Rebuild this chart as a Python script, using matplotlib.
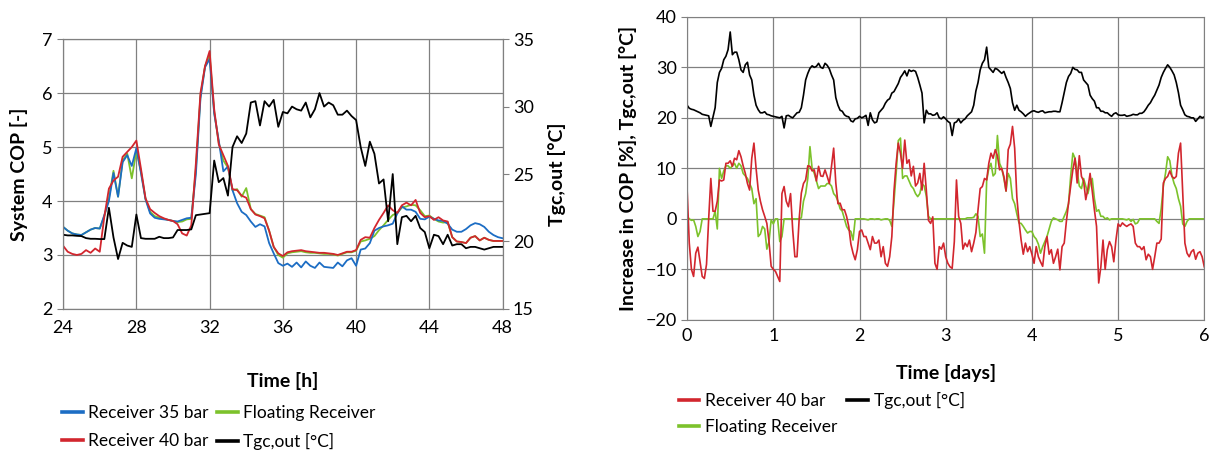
import numpy as np
import matplotlib
matplotlib.use("Agg")
from matplotlib import pyplot as plt

plt.rcParams["font.family"] = ["Lato", "DejaVu Sans"]

# left chart: 24 h .. 48 h, one reading every quarter hour
hours = np.arange(24, 48.01, 0.25)

cop_35 = [3.52, 3.45, 3.40, 3.38, 3.37, 3.42, 3.47, 3.50, 3.49, 3.74, 4.00, 4.52, 4.08,
          4.72, 4.85, 4.65, 4.98, 4.52, 4.03, 3.77, 3.69, 3.67, 3.66, 3.65, 3.63, 3.62,
          3.65, 3.68, 3.69, 4.50, 5.90, 6.48, 6.63, 5.62, 5.12, 4.55, 4.64, 4.20, 3.96,
          3.80, 3.74, 3.62, 3.52, 3.57, 3.53, 3.22, 3.03, 2.85, 2.80,
          2.84, 2.78, 2.86, 2.77, 2.88, 2.80, 2.76, 2.86, 2.78, 2.77, 2.76, 2.86, 2.79,
          2.90, 2.94, 2.80, 3.10, 3.12, 3.22, 3.45, 3.50, 3.53, 3.55, 3.58, 3.77, 3.90,
          3.84, 3.84, 3.80, 3.67, 3.66, 3.71, 3.67, 3.64, 3.63, 3.58, 3.47, 3.43, 3.43,
          3.48, 3.55, 3.59, 3.57, 3.52, 3.43, 3.37, 3.33, 3.31]

cop_40 = [3.17, 3.06, 3.02, 3.00, 3.02, 3.09, 3.04, 3.12, 3.06, 3.71, 4.23, 4.38, 4.45,
          4.82, 4.91, 5.00, 5.12, 4.60, 4.05, 3.85, 3.78, 3.72, 3.68, 3.65, 3.63, 3.57,
          3.40, 3.36, 3.55, 4.70, 6.00, 6.50, 6.78, 5.70, 5.05, 4.85, 4.65, 4.22, 4.20,
          4.10, 4.06, 3.85, 3.75, 3.72, 3.68, 3.45, 3.15, 3.03, 2.98,
          3.05, 3.07, 3.08, 3.09, 3.07, 3.06, 3.05, 3.04, 3.04, 3.03, 3.02, 3.00, 3.03,
          3.06, 3.06, 3.09, 3.28, 3.33, 3.32, 3.50, 3.65, 3.78, 3.92, 3.83, 3.78, 3.92,
          3.97, 3.92, 4.02, 3.78, 3.70, 3.72, 3.65, 3.70, 3.64, 3.62, 3.33, 3.25, 3.24,
          3.22, 3.32, 3.35, 3.27, 3.32, 3.28, 3.26, 3.26, 3.26]

cop_float = [3.52, 3.45, 3.40, 3.38, 3.37, 3.42, 3.47, 3.50, 3.49, 3.72, 4.05, 4.56, 4.08,
             4.75, 4.88, 4.42, 4.93, 4.55, 4.04, 3.80, 3.72, 3.69, 3.67, 3.65, 3.63, 3.61,
             3.62, 3.66, 3.67, 4.60, 5.95, 6.50, 6.70, 5.65, 5.08, 4.75, 4.62, 4.20, 4.22,
             4.08, 4.24, 3.85, 3.76, 3.73, 3.70, 3.45, 3.15, 3.00, 2.95,
             3.03, 3.05, 3.06, 3.07, 3.05, 3.04, 3.04, 3.03, 3.02, 3.02, 3.01, 2.99, 3.02,
             3.05, 3.05, 3.08, 3.25, 3.27, 3.30, 3.35, 3.46, 3.55, 3.65, 3.74, 3.78, 3.88,
             3.90, 3.93, 3.92, 3.83, 3.72, 3.73, 3.67, 3.62, 3.60, 3.61, 3.33, 3.25, 3.24,
             3.22, 3.32, 3.35, 3.27, 3.32, 3.28, 3.26, 3.26, 3.26]

tgc_hours = [20.5, 20.45, 20.45, 20.42, 20.4, 20.25, 20.2, 20.2, 20.18, 20.18, 22.5, 20.3,
             18.7, 19.9, 19.7, 19.6, 22.0, 20.25, 20.2, 20.2, 20.2, 20.35, 20.25, 20.25,
             20.3, 20.85, 20.85, 20.85, 20.9, 21.95, 22.0, 22.05, 22.1, 26.0, 24.4, 24.7,
             23.4, 27.0, 27.8, 27.3, 28.0, 30.3, 30.4, 28.6, 30.4, 30.0, 30.5, 28.5, 29.6,
             29.5, 30.0, 29.8, 29.7, 30.3, 29.2, 29.8, 31.0, 30.0, 30.3, 30.1, 29.4, 29.4,
             29.7, 29.3, 29.0, 27.0, 25.6, 27.4, 26.5, 24.3, 24.6, 21.5, 25.0, 19.8, 21.8,
             21.9, 21.5, 21.9, 21.0, 20.7, 19.5, 20.5, 20.4, 19.8, 20.5, 19.7, 19.8, 19.8,
             19.5, 19.6, 19.6, 19.5, 19.4, 19.5, 19.6, 19.6, 19.6]

# right chart: 0 .. 6 days, one reading every 0.025 day
days = np.arange(0, 6.0001, 0.025)

tgc_days = [22.5, 21.9, 21.7, 21.6, 21.4, 21.2, 21.0, 20.7, 20.6, 20.5, 20.4, 18.3,
            20.2, 22.0, 27.0, 29.0, 29.8, 31.5, 32.2, 33.5, 37.0, 32.5, 33.0, 33.0,
            31.5, 29.5, 29.0, 30.5, 31.0, 28.5, 27.5, 24.5, 22.5, 21.6, 21.0, 21.0,
            21.2, 20.7, 20.6, 20.4, 20.3, 20.2, 20.1, 20.0, 20.3, 18.0, 20.4, 20.5,
            20.2, 20.0, 20.5, 21.0, 21.1, 22.0, 24.5, 27.5, 28.8, 29.8, 30.3, 30.0,
            30.2, 30.8, 30.0, 29.8, 30.8, 30.4, 29.7, 28.5, 27.5, 24.0, 22.5, 21.5,
            21.3, 20.6, 20.3, 20.2, 19.4, 19.2, 19.8, 19.9, 20.3, 20.0, 20.2, 20.5,
            18.5, 21.0, 19.6, 19.0, 19.2, 21.0, 21.5, 22.0, 22.9, 23.5, 23.8, 24.9,
            25.2, 26.0, 26.8, 28.0, 28.6, 29.3, 28.3, 29.5, 29.2, 29.4, 29.2, 28.0,
            26.5, 24.9, 19.0, 21.5, 20.8, 20.8, 20.5, 20.6, 21.0, 20.0, 19.8, 20.2,
            19.8, 19.3, 19.0, 16.5, 19.0, 19.2, 19.8, 19.0, 19.5, 19.8, 20.4, 20.8,
            21.2, 22.5, 25.3, 27.0, 29.5, 30.8, 31.5, 34.0, 30.0, 29.5, 29.0, 29.8,
            29.6, 29.2, 28.8, 29.2, 28.0, 27.0, 25.8, 23.0, 21.5, 22.5, 21.5, 21.2,
            20.8, 20.3, 20.7, 21.0, 21.3, 21.4, 21.2, 21.1, 21.3, 21.4, 21.0, 21.1,
            21.2, 21.2, 21.3, 21.3, 21.2, 21.2, 23.0, 25.0, 27.0, 28.2, 28.8, 30.0,
            29.6, 29.5, 29.0, 29.0, 27.5, 27.0, 26.5, 24.5, 23.8, 23.3, 22.0, 22.0,
            21.3, 21.3, 21.0, 21.0, 20.6, 20.3, 20.8, 21.0, 20.6, 20.5, 20.5, 20.6,
            20.3, 20.4, 20.5, 20.7, 20.6, 20.6, 20.9, 20.9, 21.2, 21.8, 22.5, 23.0,
            23.8, 24.5, 25.5, 26.5, 28.0, 29.0, 29.8, 30.5, 30.0, 29.3, 28.5, 27.0,
            25.0, 22.5, 21.6, 20.6, 20.3, 20.2, 20.0, 20.0, 19.3, 19.8, 20.3, 20.0,
            20.2]

inc_40 = [5.7, -4.8, -10.0, -11.4, -6.8, -5.6, -8.5, -11.4, -11.8, -9.0, 0.0, 8.0,
          1.5, 1.5, 3.5, 7.7, 7.5, 7.7, 11.0, 11.0, 11.5, 10.4, 12.0, 11.7,
          13.5, 12.3, 10.5, 9.0, 7.0, 5.7, 12.0, 15.0, 10.0, 5.7, 3.5, 1.8,
          0.5, -0.9, -4.5, -9.4, -10.0, -10.4, -11.4, -12.4, 5.0, 6.4, 3.5, 2.4,
          5.0, -2.2, -7.5, -7.5, 0.0, 5.1, 7.0, 7.7, 10.5, 10.4, 9.5, 9.7,
          7.5, 10.4, 8.5, 8.4, 9.7, 8.4, 7.0, 10.4, 14.0, 7.1, 3.0, 3.1,
          1.8, 1.8, 0.5, -1.5, -5.0, -6.8, -8.1, -6.1, -2.5, -2.2, -3.5, -3.5,
          -4.8, -6.1, -3.5, -4.8, -4.8, -4.2, -7.5, -5.5, -8.8, -9.4, -7.5, -3.5,
          5.5, 11.0, 15.0, 13.0, 10.0, 15.6, 11.0, 11.7, 8.5, 10.4, 6.5, 7.1,
          9.0, 5.7, 11.0, 5.7, -0.3, -0.9, 0.4, -8.8, -10.0, -5.5, -6.0, -4.8,
          -7.5, -8.8, -9.5, -9.8, -4.5, 7.7, 0.5, -0.9, -6.0, -4.8, -5.5, -4.2,
          -6.5, -4.8, -2.7, 1.8, 6.0, 6.4, 8.0, 7.7, 11.0, 13.0, 12.0, 13.7,
          12.5, 9.7, 10.0, 8.4, 5.5, 13.7, 14.8, 18.3, 14.0, 4.4, -0.5, -4.2,
          -7.0, -4.8, -6.5, -5.5, -7.0, -8.8, -5.5, -7.5, -8.5, -9.4, -5.5, -3.5,
          -7.0, -6.1, -8.8, -7.5, -6.0, -10.1, -5.5, -4.8, -0.5, 3.1, 6.5, 9.7,
          12.0, 7.1, 12.5, 8.4, 7.5, 3.8, 6.0, 9.0, 5.5, 1.8, -1.5, -12.7,
          -9.5, -4.2, -10.0, -6.1, -4.5, -5.5, -8.5, -4.2, -1.0, -1.5, -0.8, -1.2,
          -1.5, -1.2, -1.0, -1.5, -4.8, -5.5, -5.5, -6.1, -5.5, -8.1, -7.0, -7.5,
          -10.0, -7.5, -4.8, -4.8, -4.0, 7.1, 8.0, 8.4, 9.5, 8.4, 8.0, 8.4,
          13.0, 15.0, 5.0, -4.8, -6.8, -7.5, -6.5, -6.1, -8.0, -6.8, -6.5, -7.5,
          -9.5]

inc_float = [0.5, 0.0, -0.3, -0.2, -1.5, -3.5, -2.5, 0.0, 0.0, 0.0, 0.0, 0.0,
             0.0, 1.5, -2.0, 10.0, 8.0, 9.5, 10.5, 10.5, 10.0, 10.5, 11.0, 10.0,
             11.0, 10.5, 9.0, 8.5, 8.0, 7.0, 6.0, 3.0, 4.0, -3.5, -3.0, -1.5,
             -2.0, -6.0, -4.5, -0.2, -1.0, 0.0, 0.0, -4.5, -3.5, 0.0, 0.0, 0.0,
             0.0, 0.0, 0.0, 0.0, 0.0, 0.2, 3.5, 5.0, 8.0, 14.3, 10.0, 9.0,
             7.5, 6.0, 6.5, 6.5, 6.5, 7.0, 7.0, 6.5, 5.0, 4.5, 3.5, 2.0,
             1.5, 0.0, -1.5, -2.2, -2.5, -4.2, 0.0, 0.0, 0.0, 0.0, 0.0, -0.1,
             -0.2, 0.0, 0.0, -0.1, 0.0, 0.0, -0.2, -0.1, 0.0, 0.0, -0.3, -1.5,
             3.5, 9.0, 15.5, 16.0, 8.0, 8.5, 8.5, 7.5, 6.5, 6.0, 5.0, 4.4,
             5.0, 7.0, 6.5, 4.5, 0.5, 0.0, 0.0, 0.0, 0.0, 0.0, 0.0, 0.0,
             0.0, 0.0, 0.0, 0.0, 0.0, 0.0, 0.0, 0.0, 0.0, 0.0, 0.2, 0.2,
             0.2, 0.3, 1.0, 0.5, -3.5, -3.0, -6.8, 7.5, 10.0, 11.0, 8.5, 9.0,
             16.5, 11.0, 10.0, 8.0, 5.5, 9.0, 8.0, 4.0, 3.0, 1.0, -0.8, -0.9,
             -1.5, -2.2, -2.8, -2.5, -2.5, -3.5, -4.0, -5.0, -6.8, -5.5, -4.5, -3.5,
             -2.0, -0.5, 0.2, 0.0, -0.2, -0.5, -0.5, 0.5, 1.5, 3.0, 8.5, 13.0,
             12.0, 9.5, 6.5, 6.0, 8.0, 6.5, 5.0, 7.0, 8.0, 4.0, 1.5, 1.8,
             0.5, 0.5, 0.0, 0.2, -0.2, 0.0, 0.0, 0.0, 0.0, 0.0, 0.0, -0.1,
             -0.2, 0.0, -0.5, -0.1, -1.0, -0.8, 0.0, 0.0, 0.0, 0.0, 0.0, 0.0,
             0.0, 0.0, -0.5, -0.9, 2.0, 6.5, 9.0, 12.3, 11.5, 8.5, 7.0, 6.0,
             4.0, 2.5, -1.0, -1.5, -0.5, 0.0, 0.0, 0.0, 0.0, 0.0, 0.0, 0.0,
             0.0]

BLUE = "#1c6dc4"
RED = "#d2262e"
GREEN = "#7cc22b"
GRID = "#808080"

fig = plt.figure(figsize=(12.14, 4.55), dpi=100)

# ---- left chart
ax1 = fig.add_axes([0.052, 0.321, 0.362, 0.593])
l_green, = ax1.plot(hours, cop_float, color=GREEN, lw=1.3)
l_blue, = ax1.plot(hours, cop_35, color=BLUE, lw=1.3)
l_red, = ax1.plot(hours, cop_40, color=RED, lw=1.3)
ax1.set_xlim(24, 48)
ax1.set_ylim(2, 7)
ax1.set_xticks(range(24, 49, 4))
ax1.set_yticks(range(2, 8))
ax1.grid(True, color=GRID, lw=0.9)
ax1.set_xlabel("Time [h]", fontsize=14, fontweight="bold", labelpad=26)
ax1.set_ylabel("System COP [-]", fontsize=14, fontweight="bold", labelpad=10)

ax1b = ax1.twinx()
l_black, = ax1b.plot(hours, tgc_hours, color="black", lw=1.3)
ax1b.set_ylim(15, 35)
ax1b.set_yticks(range(15, 36, 5))
ax1b.set_ylabel("Tgc,out [°C]", fontsize=14, fontweight="bold", labelpad=10)

for a in (ax1, ax1b):
    for s in a.spines.values():
        s.set_color(GRID)
    a.tick_params(labelsize=13, color=GRID, length=4)
ax1.tick_params(axis="x", length=0, pad=8)

leg1 = fig.legend([l_blue, l_red, l_green, l_black],
                  ["Receiver 35 bar", "Receiver 40 bar", "Floating Receiver", "Tgc,out [°C]"],
                  ncol=2, loc="upper left", bbox_to_anchor=(0.051, 0.11), frameon=False,
                  fontsize=12.5, handlelength=1.2, handletextpad=0.3, columnspacing=0.5,
                  labelspacing=0.7, borderpad=0, borderaxespad=0)

# ---- right chart
ax2 = fig.add_axes([0.566, 0.297, 0.426, 0.666])
r_green, = ax2.plot(days, inc_float, color=GREEN, lw=1.2)
r_red, = ax2.plot(days, inc_40, color=RED, lw=1.2)
r_black, = ax2.plot(days, tgc_days, color="black", lw=1.2)
ax2.set_xlim(0, 6)
ax2.set_ylim(-20, 40)
ax2.set_yticks(range(-20, 41, 10))
ax2.grid(True, color=GRID, lw=0.9)
for s in ax2.spines.values():
    s.set_color(GRID)
ax2.tick_params(labelsize=13, color=GRID, length=4)
ax2.tick_params(axis="x", length=0, pad=6)
ax2.set_xlabel("Time [days]", fontsize=14, fontweight="bold", labelpad=14)
ax2.set_ylabel("Increase in COP [%], Tgc,out [°C]", fontsize=14, fontweight="bold", labelpad=6)

leg2 = fig.legend([r_red, r_green, r_black],
                  ["Receiver 40 bar", "Floating Receiver", "Tgc,out [°C]"],
                  ncol=2, loc="upper left", bbox_to_anchor=(0.559, 0.138), frameon=False,
                  fontsize=12.5, handlelength=1.2, handletextpad=0.3, columnspacing=0.6,
                  labelspacing=0.55, borderpad=0, borderaxespad=0)

# thicker swatches, as in the original legend
for leg in (leg1, leg2):
    for h in leg.legend_handles:
        h.set_linewidth(2.6)

fig.savefig("out.png", dpi=100)
